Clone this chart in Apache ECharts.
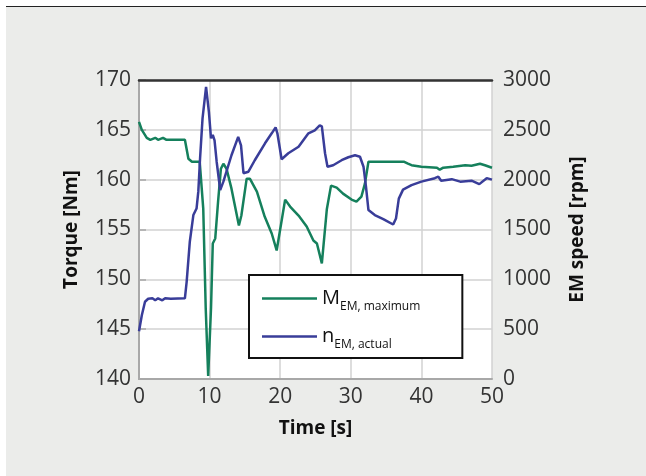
<!DOCTYPE html>
<html>
<head>
<meta charset="utf-8">
<script src="https://cdn.jsdelivr.net/npm/echarts@6/dist/echarts.min.js"></script>
<style>
  html, body { margin: 0; padding: 0; background: #ffffff; }
  #bg { position: absolute; left: 6px; top: 6px; width: 640px; height: 470px; background: #ebecea; border-top: 1px solid #222; box-sizing: border-box; }
  #chart { position: absolute; left: 0; top: 0; width: 646px; height: 476px; }
</style>
</head>
<body>
<div id="bg"></div>
<div id="chart"></div>
<script>
// ---- data ----
const torqueTime = [0, 0.4, 1.1, 1.6, 2.3, 2.7, 3.4, 3.9, 6.5, 7.0, 7.5, 8.6, 9.1, 9.45, 9.8, 10.2, 10.45, 10.8, 11.2, 11.6, 11.95, 12.4, 13.1, 14.15, 14.5, 15.25, 15.7, 16.7, 17.8, 18.8, 19.5, 20.7, 21.4, 22.6, 23.75, 24.7, 25.2, 25.9, 26.6, 27.2, 28.0, 28.9, 30.1, 30.8, 31.5, 32.0, 32.5, 34.8, 37.5, 38.1, 38.6, 40.0, 42.2, 42.6, 43.1, 44.5, 46.2, 47.1, 48.3, 49.0, 50.0];
const torqueValues = [165.8, 165.0, 164.2, 164.0, 164.2, 164.0, 164.2, 164.0, 164.0, 162.1, 161.8, 161.8, 157.1, 147.1, 140.3, 147.1, 153.6, 154.1, 157.8, 161.1, 161.6, 161.1, 159.1, 155.4, 156.4, 160.1, 160.1, 158.8, 156.3, 154.6, 152.9, 158.0, 157.3, 156.4, 155.3, 153.9, 153.6, 151.6, 157.0, 159.4, 159.2, 158.6, 158.0, 157.8, 158.3, 159.6, 161.8, 161.8, 161.8, 161.6, 161.45, 161.3, 161.2, 161.0, 161.2, 161.3, 161.45, 161.4, 161.6, 161.45, 161.2];

const speedTime = [0, 0.4, 0.85, 1.3, 1.9, 2.3, 2.7, 3.3, 3.7, 4.5, 6.5, 6.75, 7.2, 7.7, 8.15, 8.4, 8.65, 9.0, 9.5, 9.9, 10.2, 10.45, 10.7, 11.0, 11.5, 11.95, 13.1, 14.05, 14.45, 14.8, 15.5, 16.4, 17.85, 18.8, 19.35, 19.6, 20.2, 21.15, 22.6, 24.0, 24.9, 25.6, 25.9, 26.35, 26.7, 27.5, 28.7, 29.65, 30.6, 31.3, 31.8, 32.15, 32.5, 33.4, 34.6, 36.0, 36.4, 36.8, 37.4, 38.6, 40.0, 41.9, 42.4, 42.8, 44.3, 45.5, 47.1, 48.2, 49.25, 50];
const speedValues = [480, 640, 775, 805, 810, 790, 810, 790, 810, 805, 810, 975, 1380, 1645, 1710, 1880, 2215, 2615, 2930, 2680, 2415, 2450, 2395, 2180, 1895, 1980, 2245, 2430, 2345, 2065, 2080, 2195, 2365, 2465, 2525, 2465, 2205, 2265, 2330, 2465, 2495, 2545, 2535, 2265, 2130, 2145, 2195, 2225, 2245, 2230, 2130, 1930, 1695, 1645, 1605, 1550, 1610, 1810, 1900, 1945, 1980, 2015, 2030, 1990, 2005, 1980, 1990, 1955, 2015, 2000];

const seriesNames = ['M_EM, maximum', 'n_EM, actual'];
const legendMain = ['M', 'n'];
const legendSub = ['EM, maximum', 'EM, actual'];

const xTitle = 'Time [s]';
const yLeftTitle = 'Torque [Nm]';
const yRightTitle = 'EM speed [rpm]';

const torqueData = torqueTime.map((t, i) => [t, torqueValues[i]]);
const speedData = speedTime.map((t, i) => [t, speedValues[i]]);

const labelFont = { color: '#333', fontSize: 21, fontFamily: 'Open Sans' };
const nameFont = { color: '#111', fontSize: 19, fontWeight: 'bold', fontFamily: 'Open Sans' };
const axisGray = '#a8a8a8';

const chart = echarts.init(document.getElementById('chart'), null, { renderer: 'canvas' });
chart.setOption({
  backgroundColor: 'transparent',
  animation: false,
  grid: { left: 139, right: 154, top: 80, bottom: 97, show: true, backgroundColor: '#ffffff', borderWidth: 0 },
  xAxis: [{
    type: 'value', min: 0, max: 50, interval: 10,
    name: xTitle, nameLocation: 'middle', nameGap: 40, nameTextStyle: nameFont,
    axisLine: { show: true, lineStyle: { color: axisGray, width: 2 } },
    axisTick: { show: false },
    axisLabel: Object.assign({ margin: 8 }, labelFont),
    splitLine: { show: true, lineStyle: { color: '#d2d2d2', width: 1.5 } }
  }, {
    type: 'value', min: 0, max: 50, position: 'top', z: 10,
    axisLine: { show: true, onZero: false, lineStyle: { color: '#333', width: 2.5 } },
    axisTick: { show: false }, axisLabel: { show: false }, splitLine: { show: false }
  }],
  yAxis: [{
    type: 'value', min: 140, max: 170, interval: 5, position: 'left',
    name: yLeftTitle, nameLocation: 'middle', nameGap: 58, nameRotate: 90, nameTextStyle: nameFont,
    axisLine: { show: true, lineStyle: { color: axisGray, width: 2 } },
    axisTick: { show: false },
    axisLabel: Object.assign({ margin: 8 }, labelFont),
    splitLine: { show: true, lineStyle: { color: '#d2d2d2', width: 1.5 } }
  }, {
    type: 'value', min: 0, max: 3000, interval: 500, position: 'right',
    name: yRightTitle, nameLocation: 'middle', nameGap: 76, nameRotate: 90, nameTextStyle: nameFont,
    axisLine: { show: true, lineStyle: { color: axisGray, width: 2 } },
    axisTick: { show: true, length: 7, lineStyle: { color: axisGray, width: 1.5 } },
    axisLabel: Object.assign({ margin: 11, formatter: function (v) { return String(v); } }, labelFont),
    splitLine: { show: false }
  }],
  legend: {
    orient: 'vertical', left: 249, top: 275,
    backgroundColor: '#ffffff', borderColor: '#111', borderWidth: 2,
    padding: [9, 42, 7, 13], itemGap: 9,
    icon: 'rect', itemWidth: 55, itemHeight: 2.5,
    data: seriesNames,
    formatter: function (name) {
      const i = seriesNames.indexOf(name);
      return '{a|' + legendMain[i] + '}{b|' + legendSub[i] + '}';
    },
    textStyle: {
      color: '#111', fontFamily: 'Open Sans',
      rich: {
        a: { fontSize: 20, lineHeight: 20, verticalAlign: 'middle', color: '#111', fontFamily: 'Open Sans' },
        b: { fontSize: 12, lineHeight: 12, padding: [17, 0, 0, 0], verticalAlign: 'middle', color: '#111', fontFamily: 'Open Sans' }
      }
    }
  },
  series: [{
    name: seriesNames[0], type: 'line', xAxisIndex: 0, yAxisIndex: 0,
    data: torqueData, showSymbol: false, symbol: 'none',
    lineStyle: { color: '#15805c', width: 2.5 }, itemStyle: { color: '#15805c' }
  }, {
    name: seriesNames[1], type: 'line', xAxisIndex: 0, yAxisIndex: 1,
    data: speedData, showSymbol: false, symbol: 'none',
    lineStyle: { color: '#393d99', width: 2.5 }, itemStyle: { color: '#393d99' }
  }]
});
</script>
</body>
</html>
